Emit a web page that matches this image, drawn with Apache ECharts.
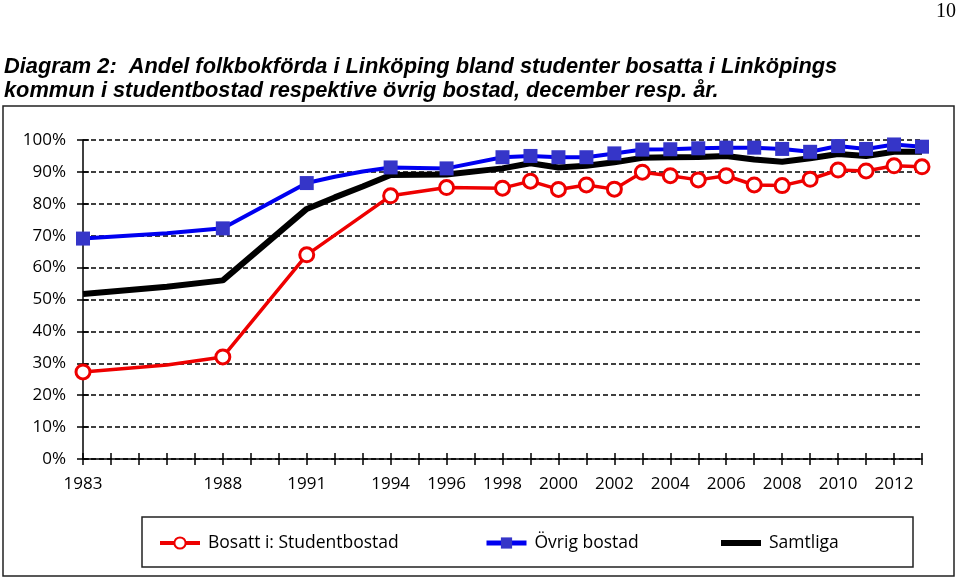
<!DOCTYPE html>
<html>
<head>
<meta charset="utf-8">
<script src="https://cdn.jsdelivr.net/npm/echarts@6/dist/echarts.min.js"></script>
<style>
  html, body { margin: 0; padding: 0; background: #fff; }
  #mychart { width: 960px; height: 582px; }
</style>
</head>
<body>
<div id="mychart"></div>
<script>
// years with a data point; 1986, 1992, 1993 are kinks in the lines without markers
const years = [1983, 1986, 1988, 1991, 1992, 1993, 1994, 1996,
    1998, 1999, 2000, 2001, 2002, 2003, 2004, 2005, 2006, 2007, 2008, 2009, 2010, 2011, 2012, 2013];
const unmarkedYears = [1986, 1992, 1993];
const studentbostad = [27.3, 29.5, 32.0, 64.0, null, null, 82.5, 85.1,
    84.9, 87.1, 84.5, 85.9, 84.6, 89.9, 88.8, 87.5, 88.8, 85.9, 85.7, 87.7, 90.6, 90.3, 91.9, 91.6];
const ovrigBostad = [69.1, 70.8, 72.3, 86.5, 88.5, 90.1, 91.4, 91.1,
    94.6, 95.0, 94.6, 94.6, 95.8, 97.0, 97.1, 97.4, 97.6, 97.6, 97.2, 96.3, 98.1, 97.2, 98.6, 97.9];
const samtliga = [51.7, 54.0, 56.0, 78.4, 82.0, 85.4, 89.0, 89.2,
    91.1, 92.7, 91.4, 91.9, 93.0, 94.4, 94.6, 94.7, 95.0, 93.9, 93.2, 94.3, 95.6, 95.0, 96.3, 96.3];
const xLabels = [1983, 1988, 1991, 1994, 1996, 1998, 2000, 2002, 2004, 2006, 2008, 2010, 2012];
const seriesNames = ['Bosatt i: Studentbostad', 'Övrig bostad', 'Samtliga'];

const labelFont = 'Open Sans';

function toPoints(arr) {
    return years.map((y, i) => {
        let p = { value: [y, arr[i]] };
        if (unmarkedYears.indexOf(y) >= 0) p.symbol = 'none';
        return p;
    });
}

// one legend per entry so each can sit where it is in the picture
function legendAt(item, left, lineW) {
    return {
        data: [item],
        left: left,
        top: 534,
        padding: 0,
        itemWidth: 40,
        itemHeight: 14,
        lineStyle: { width: lineW },
        textStyle: { fontFamily: labelFont, fontSize: 17.5, color: '#000', padding: [0, 0, 0, 3] }
    };
}

var myChart = echarts.init(document.getElementById('mychart'));
var option = {
    animation: false,
    backgroundColor: '#fff',
    title: {
        text: 'Diagram 2:  Andel folkbokförda i Linköping bland studenter bosatta i Linköpings\nkommun i studentbostad respektive övrig bostad, december resp. år.',
        left: 4,
        top: 55,
        padding: 0,
        textStyle: {
            fontFamily: 'Liberation Sans',
            fontSize: 21.8,
            fontWeight: 'bold',
            fontStyle: 'italic',
            color: '#000',
            lineHeight: 24
        }
    },
    graphic: [
        {
            type: 'rect',
            shape: { x: 3, y: 106, width: 951, height: 470 },
            style: { fill: 'none', stroke: '#222', lineWidth: 1.5 },
            silent: true
        },
        {
            type: 'rect',
            shape: { x: 142, y: 517, width: 771, height: 50 },
            style: { fill: 'none', stroke: '#222', lineWidth: 1.5 },
            silent: true
        },
        {
            type: 'text',
            right: 4,
            top: 2,
            style: { text: '10', font: '20px "Liberation Serif"', fill: '#000' }
        }
    ],
    legend: [
        legendAt(seriesNames[0], 158, 4),
        legendAt(seriesNames[1], 484, 5),
        legendAt({ name: seriesNames[2], itemStyle: { opacity: 0 } }, 718, 6)
    ],
    grid: { left: 83, right: 38, top: 140, bottom: 123 },
    xAxis: [
        {
            type: 'value',
            min: 1983,
            max: 2013,
            interval: 1,
            axisLine: { lineStyle: { color: '#000', width: 1.5 } },
            axisTick: { length: 6, lineStyle: { color: '#000', width: 1.5 } },
            splitLine: { show: false },
            axisLabel: {
                margin: 17,
                fontFamily: labelFont,
                fontSize: 17,
                color: '#000',
                showMinLabel: true,
                showMaxLabel: true,
                formatter: function (v) { return xLabels.indexOf(v) >= 0 ? String(v) : ''; }
            }
        },
        {
            type: 'value',
            min: 1983,
            max: 2013,
            interval: 1,
            position: 'bottom',
            axisLine: { show: false },
            axisTick: { inside: true, length: 6, lineStyle: { color: '#000', width: 1.5 } },
            axisLabel: { show: false },
            splitLine: { show: false }
        }
    ],
    yAxis: [
        {
            type: 'value',
            min: 0,
            max: 100,
            interval: 10,
            axisLine: { show: true, lineStyle: { color: '#000', width: 1.5 } },
            axisTick: { show: true, length: 6, lineStyle: { color: '#000', width: 1.5 } },
            axisLabel: { margin: 17, fontFamily: labelFont, fontSize: 17, color: '#000', formatter: '{value}%' },
            splitLine: { show: true, lineStyle: { color: '#000', width: 1.5, type: [5, 3] } }
        },
        {
            type: 'value',
            min: 0,
            max: 100,
            interval: 10,
            position: 'left',
            axisLine: { show: false },
            axisTick: { show: true, inside: true, length: 6, lineStyle: { color: '#000', width: 1.5 } },
            axisLabel: { show: false },
            splitLine: { show: false }
        }
    ],
    series: [
        {
            name: 'Samtliga',
            type: 'line',
            data: toPoints(samtliga),
            symbol: 'none',
            connectNulls: true,
            lineStyle: { color: '#000', width: 6 },
            itemStyle: { color: '#000' },
            z: 2
        },
        {
            name: 'Övrig bostad',
            type: 'line',
            data: toPoints(ovrigBostad),
            symbol: 'rect',
            symbolSize: 14,
            connectNulls: true,
            lineStyle: { color: '#0000f0', width: 4 },
            itemStyle: { color: '#3535c8', borderWidth: 0 },
            z: 3
        },
        {
            name: 'Bosatt i: Studentbostad',
            type: 'line',
            data: toPoints(studentbostad),
            symbol: 'circle',
            symbolSize: 14,
            connectNulls: true,
            lineStyle: { color: '#ee0000', width: 3.5 },
            itemStyle: { color: '#fff', borderColor: '#ee0000', borderWidth: 3 },
            z: 4
        }
    ]
};
myChart.setOption(option);
</script>
</body>
</html>
